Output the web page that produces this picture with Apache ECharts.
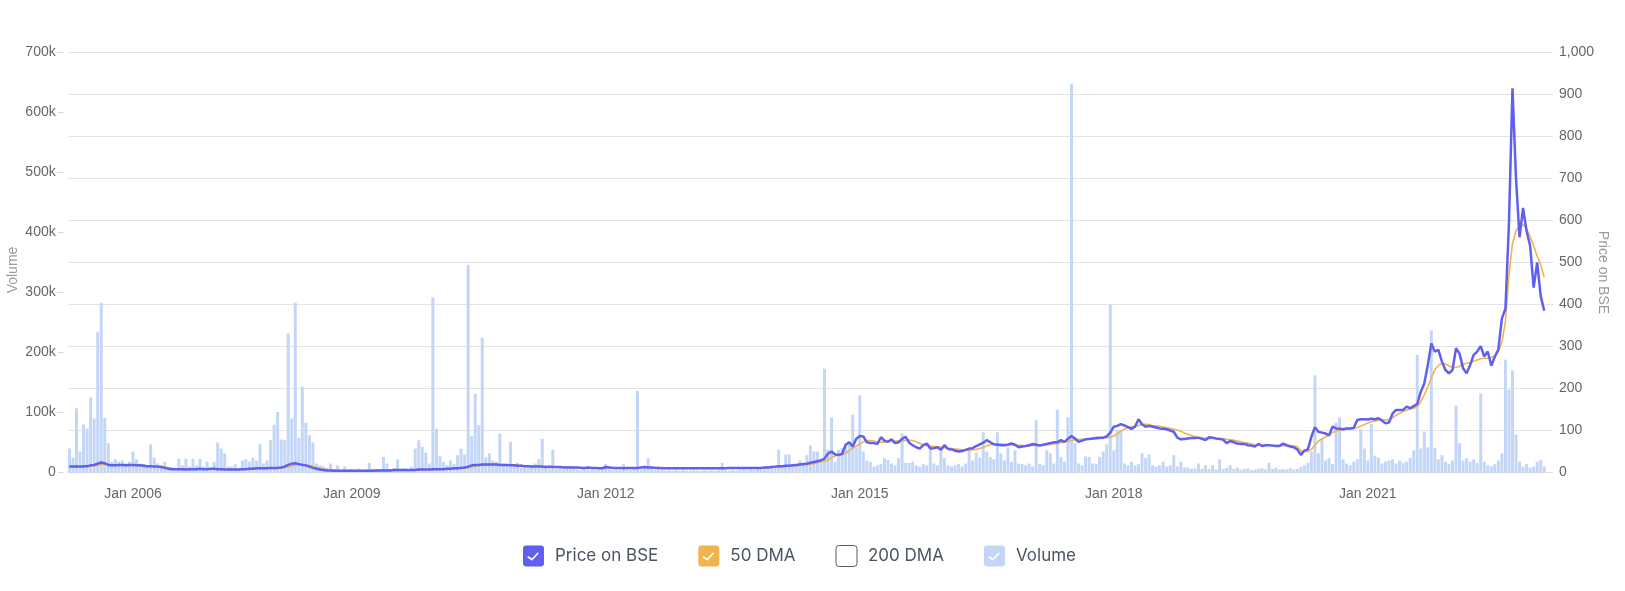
<!DOCTYPE html>
<html><head><meta charset="utf-8">
<script src="https://cdn.jsdelivr.net/npm/echarts@6/dist/echarts.min.js"></script>
<style>html,body{margin:0;padding:0;background:#fff}#chart{width:1625px;height:591px}</style>
</head><body><div id="chart"></div>
<script>
// Half-month periods with data (some periods in 2005-2008 have no data)
const skippedPeriods = ['2005-06-01','2005-09-16','2005-12-01','2006-03-16','2006-07-01','2006-10-16',
  '2007-03-16','2007-07-16','2007-11-01','2008-02-16','2008-06-01','2008-09-01','2008-12-16'];
const firstPeriod = '2005-02-16';
const lastPeriod = '2023-02-01';
const tickLabelDates = ['2006-01-01','2009-01-01','2012-01-01','2015-01-01','2018-01-01','2021-01-01'];

const categories = [];
for (let y = 2005; y <= 2023; y++) {
  for (let m = 1; m <= 12; m++) {
    for (const d of [1, 16]) {
      const s = y + '-' + String(m).padStart(2, '0') + '-' + String(d).padStart(2, '0');
      if (s < firstPeriod || s > lastPeriod || skippedPeriods.includes(s)) continue;
      categories.push(s);
    }
  }
}

const priceBSE = [
14,14,15,14,15,15,17,18,21,24,
22,18,17,17,18,18,17,18,18,17,
17,16,15,15,14,14,13,11,9,8,
8,8,8,7,8,8,8,9,8,8,
9,9,8,8,7,7,7,7,7,8,
8,9,9,10,10,10,10,11,11,11,
12,14,18,21,22,20,18,17,14,11,
9,7,6,5,5,4,4,4,4,4,
4,4,4,4,4,4,4,5,5,5,
5,5,6,6,6,6,6,6,6,7,
7,7,7,8,8,8,8,9,9,10,
10,11,12,14,17,18,18,19,19,19,
19,19,18,18,18,17,17,16,16,15,
15,14,14,14,14,13,14,13,13,13,
12,12,12,12,12,11,11,12,11,11,
10,10,13,12,11,11,11,10,11,11,
11,11,12,13,12,12,11,11,10,10,
10,10,10,10,10,10,10,10,10,10,
10,10,10,10,10,10,10,11,11,11,
11,11,11,11,11,11,11,12,12,13,
14,15,15,16,16,17,18,19,20,21,
23,25,27,29,33,45,50,43,42,44,
66,72,62,80,87,86,72,70,70,68,
84,76,73,79,70,72,80,85,71,65,
60,57,65,69,57,58,60,54,65,56,
55,52,50,51,54,57,58,63,67,71,
77,72,67,66,65,65,66,69,66,60,
62,63,65,68,66,64,66,68,70,72,
72,77,73,80,87,81,73,76,79,80,
81,82,83,83,86,95,109,111,115,112,
108,104,109,127,115,109,111,109,107,105,
104,103,100,97,83,79,80,81,82,82,
83,80,77,84,83,81,80,78,70,75,
72,69,68,68,65,64,62,68,63,65,
65,64,63,63,69,65,62,60,55,42,
52,55,85,108,97,95,93,88,109,105,
104,103,105,105,106,125,127,127,126,128,
127,129,124,117,119,140,149,149,149,157,
153,158,163,192,212,256,307,288,292,264,
244,236,244,296,283,248,236,256,280,288,
301,276,288,254,276,293,367,390,593,915,
700,560,630,575,540,440,500,420,385
];

const dma50 = [
14,14,14,14,14,15,15,16,17,19,
20,20,19,18,18,18,17,17,17,17,
17,17,16,16,15,15,14,13,12,10,
9,8,8,8,8,8,8,8,8,8,
8,9,9,8,8,8,7,7,7,7,
8,8,8,9,9,10,10,10,11,11,
11,12,13,15,18,20,20,19,17,15,
12,10,8,6,5,5,5,4,4,4,
4,4,4,4,4,4,4,4,5,5,
5,5,5,5,6,6,6,6,6,6,
7,7,7,7,8,8,8,8,8,9,
9,10,10,11,13,15,17,18,18,19,
19,19,19,19,18,18,18,17,17,16,
16,15,15,15,14,14,14,14,13,13,
13,13,12,12,12,12,11,11,11,11,
11,11,11,11,11,11,11,11,11,11,
11,11,11,11,12,12,12,12,11,11,
10,10,10,10,10,10,10,10,10,10,
10,10,10,10,10,10,10,10,10,11,
11,11,11,11,11,11,11,11,12,12,
13,13,14,15,15,16,16,17,18,19,
20,21,23,25,27,30,35,39,42,43,
46,52,58,63,68,73,76,76,75,73,
72,73,74,75,75,75,75,76,77,76,
73,69,66,64,63,62,61,60,59,58,
57,56,55,54,53,53,54,55,57,60,
63,66,68,68,68,67,66,66,66,65,
64,63,63,64,65,66,66,66,67,68,
69,71,72,74,76,78,79,79,79,79,
80,80,81,82,83,84,87,92,98,103,
107,109,110,112,114,115,114,112,111,110,
108,107,105,103,101,98,94,91,88,85,
83,82,82,81,81,81,81,80,79,78,
77,75,73,71,70,68,66,65,65,65,
65,65,64,64,64,64,64,63,62,52,
50,50,55,65,75,80,85,90,95,99,
101,102,103,104,105,107,110,114,118,121,
123,124,125,125,126,130,136,141,145,148,
151,153,157,168,185,204,225,245,255,260,
258,254,250,250,253,258,260,262,265,268,
271,272,272,274,278,288,310,360,470,545,
575,588,590,580,562,540,515,495,465
];

const dma200 = [];

// Volume in thousands of shares
const volumeK = [
40,25,107,35,80,73,125,90,234,283,
91,49,18,22,18,20,15,18,35,22,
15,14,12,47,25,15,12,18,8,8,
6,23,12,23,10,23,12,23,10,18,
8,18,50,40,32,10,10,14,8,20,
22,18,25,20,47,15,20,54,80,101,
55,54,232,90,283,58,143,83,62,50,
15,12,10,8,15,6,12,5,10,5,
6,5,7,4,5,16,6,5,6,26,
15,6,8,22,5,7,6,10,40,54,
43,33,15,292,73,27,18,12,20,14,
29,40,30,346,61,131,79,225,25,32,
20,18,65,14,12,51,10,16,8,9,
8,10,15,22,56,8,7,38,6,7,
5,6,5,6,5,4,6,5,5,4,
5,6,14,5,4,5,5,14,5,4,
6,136,5,6,24,6,4,5,4,3,
4,3,4,3,4,3,3,4,3,3,
4,3,4,3,4,16,4,3,4,3,
4,5,4,5,4,5,6,5,6,8,
10,38,12,30,30,14,12,20,15,29,
45,35,35,18,173,38,92,18,38,41,
45,51,96,42,129,35,20,18,10,12,
14,24,21,15,12,24,65,16,16,18,
12,10,14,12,40,15,12,37,24,12,
10,12,14,10,15,37,20,33,25,67,
35,26,22,67,32,20,42,18,37,15,
14,12,15,10,87,14,12,37,32,15,
105,26,18,92,648,49,15,12,27,26,
15,14,26,35,47,280,37,71,71,15,
12,18,12,14,32,24,30,12,10,12,
18,10,12,29,10,18,8,8,6,7,
15,6,12,6,12,5,22,6,8,12,
6,8,5,6,7,4,5,6,7,5,
16,6,8,5,6,5,7,5,6,10,
12,16,35,162,32,57,20,24,14,83,
92,22,15,12,18,22,72,40,20,81,
28,25,15,18,20,22,15,20,16,18,
24,37,196,40,68,42,237,41,22,29,
18,14,20,111,49,20,24,18,22,16,
132,18,12,10,14,20,32,188,138,170,
63,18,10,14,8,10,18,21,10
];

const colors = { price: '#5f5ff0', dma50: '#f1b34e', dma200: '#9ca3af', volume: '#c4d6f8' };
const checkedIcon = 'path://M3,0H17Q20,0,20,3V17Q20,20,17,20H3Q0,20,0,17V3Q0,0,3,0Z M4,11.1L8.5,14.6L15,7.6L14,6.5L8.5,12.3L5,10Z';
const emptyIcon = 'path://M3,0H17Q20,0,20,3V17Q20,20,17,20H3Q0,20,0,17V3Q0,0,3,0Z';

const isTick = (idx, val) => tickLabelDates.includes(val);
const axisFont = 'Liberation Sans, Arial, sans-serif';
const gridColor = '#e3e3e3';

const chart = echarts.init(document.getElementById('chart'), null, { renderer: 'canvas' });
chart.setOption({
  animation: false,
  textStyle: { fontFamily: axisFont },
  grid: { left: 67.7, right: 79, top: 52.5, bottom: 118.5, containLabel: false, outerBoundsMode: 'none' },
  legend: {
    top: 540, left: 518,
    itemWidth: 21, itemHeight: 21, itemGap: 40,
    textStyle: { color: '#4b5563', fontSize: 17, fontFamily: 'Inter, sans-serif', padding: [0, 0, 0, 6] },
    data: [
      { name: 'Price on BSE', icon: checkedIcon, itemStyle: { color: colors.price, borderWidth: 0 } },
      { name: '50 DMA', icon: checkedIcon, itemStyle: { color: colors.dma50, borderWidth: 0 } },
      { name: '200 DMA', icon: emptyIcon, itemStyle: { color: '#ffffff', borderColor: '#555b66', borderWidth: 1 } },
      { name: 'Volume', icon: checkedIcon, itemStyle: { color: colors.volume, borderWidth: 0 } }
    ]
  },
  xAxis: {
    type: 'category', data: categories, boundaryGap: true,
    axisLine: { lineStyle: { color: '#dadada' } },
    axisTick: { interval: isTick, alignWithLabel: true, length: 6, lineStyle: { color: '#d0d0d0' } },
    axisLabel: { interval: isTick, formatter: v => 'Jan ' + v.slice(0, 4), color: '#666', fontSize: 14, margin: 15 },
    splitLine: { show: false }
  },
  yAxis: [
    {
      type: 'value', position: 'left', min: 0, max: 700, interval: 100, offset: 4,
      name: 'Volume', nameLocation: 'middle', nameGap: 44, nameMoveOverlap: false,
      nameTextStyle: { color: '#9a9a9a', fontSize: 14, padding: [0, 15, 0, 0] },
      axisLine: { show: false },
      axisTick: { show: true, length: 6, lineStyle: { color: '#d8d8d8' } },
      axisLabel: { formatter: v => v === 0 ? '0' : v + 'k', color: '#666', fontSize: 14, margin: 8 },
      splitLine: { show: false }
    },
    {
      type: 'value', position: 'right', min: 0, max: 1000, interval: 100,
      name: 'Price on BSE', nameLocation: 'middle', nameRotate: -90, nameGap: 50, nameMoveOverlap: false,
      nameTextStyle: { color: '#9a9a9a', fontSize: 14, padding: [0, 0, 0, 20] },
      axisLine: { show: false },
      axisTick: { show: true, length: 7, lineStyle: { color: gridColor } },
      axisLabel: { formatter: v => v.toLocaleString('en-US'), color: '#666', fontSize: 14, margin: 13 },
      splitLine: { show: true, lineStyle: { color: gridColor, width: 1 } }
    }
  ],
  series: [
    { name: 'Price on BSE', type: 'line', yAxisIndex: 1, data: priceBSE, showSymbol: false, z: 4,
      lineStyle: { width: 2.5, color: colors.price }, itemStyle: { color: colors.price } },
    { name: '50 DMA', type: 'line', yAxisIndex: 1, data: dma50, showSymbol: false, z: 3,
      lineStyle: { width: 1.6, color: colors.dma50 }, itemStyle: { color: colors.dma50 } },
    { name: '200 DMA', type: 'line', yAxisIndex: 1, data: dma200, showSymbol: false, z: 3,
      lineStyle: { width: 1.6, color: colors.dma200 }, itemStyle: { color: colors.dma200 } },
    { name: 'Volume', type: 'bar', yAxisIndex: 0, data: volumeK, barWidth: '85%', z: 1,
      itemStyle: { color: colors.volume } }
  ]
});
</script></body></html>
